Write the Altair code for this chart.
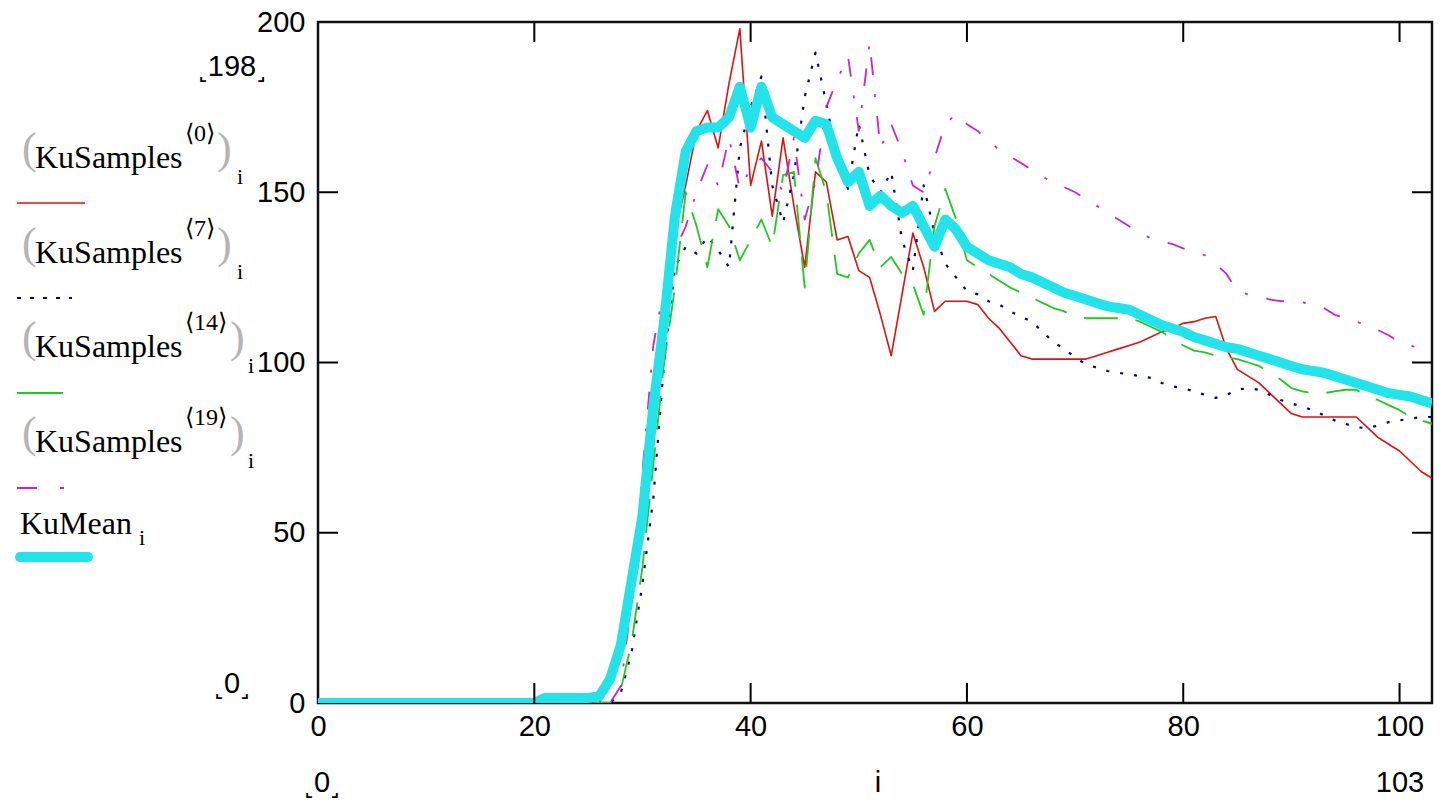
import altair as alt
import pandas as pd

# ---------------- data ----------------
idx = list(range(104))

ku_samples_0 = [
    0, 0, 0, 0, 0, 0, 0, 0, 0, 0,
    0, 0, 0, 0, 0, 0, 0, 0, 0, 0,
    0, 0, 0, 0, 0, 0, 0, 6, 22, 40,
    48, 75, 110, 138, 152, 168, 174, 163, 182, 198,
    152, 165, 143, 166, 146, 128, 156, 153, 136, 137,
    127, 125, 114, 102, 120, 138, 128, 115, 118, 118,
    118, 117, 113, 110, 106, 102, 101, 101, 101, 101,
    101, 101, 102, 103, 104, 105, 106, 107.5, 109, 110,
    111.5, 112, 113, 113.5, 104, 98, 96, 94, 91, 88,
    85, 84, 84, 84, 84, 84, 84, 81, 78, 76,
    74, 71, 68, 66]

ku_samples_7 = [
    0, 0, 0, 0, 0, 0, 0, 0, 0, 0,
    0, 0, 0, 0, 0, 0, 0, 0, 0, 0,
    0, 0, 0, 0, 0, 0, 0, 0, 3, 15,
    35, 60, 100, 128, 134, 132, 137, 133, 128, 163,
    175, 184, 152, 141, 155, 178, 191, 176, 160, 151,
    170, 155, 150, 156, 136, 127, 152, 138, 129, 125,
    121, 120, 118, 117, 115, 113.5, 112, 109, 106, 104,
    101.5, 99.5, 98.5, 97.5, 97, 96.5, 96, 95.5, 94, 93,
    92.5, 91.5, 90.5, 89.6, 90.5, 92, 92.5, 92, 90.5, 89,
    88, 87, 86, 84.5, 83, 82, 81, 80.7, 81.5, 82.5,
    83, 83.5, 84, 84]

ku_samples_14 = [
    0, 0, 0, 0, 0, 0, 0, 0, 0, 0,
    0, 0, 0, 0, 0, 0, 0, 0, 0, 0,
    0, 0, 0, 0, 0, 0, 0, 0, 4, 18,
    40, 70, 100, 122, 150, 140, 128, 145, 140, 130,
    136, 142, 134, 155, 156, 122, 160, 150, 126, 125,
    132, 136, 128, 131, 126, 123, 114, 140, 151, 142,
    130, 128, 126, 124, 122, 120.5, 119, 117.5, 116, 115,
    113.5, 113, 113, 113, 113, 113, 112, 110.5, 109, 107,
    105, 103.5, 103, 102, 101.5, 101, 100, 99, 97, 95,
    92.5, 91.5, 91, 91, 91.5, 92, 92, 90, 89, 87.5,
    86, 84, 83, 82]

ku_samples_19 = [
    0, 0, 0, 0, 0, 0, 0, 0, 0, 0,
    0, 0, 0, 0, 0, 0, 0, 0, 0, 0,
    0, 0, 0, 0, 0, 0, 0, 0, 5, 30,
    68, 105, 122, 133, 140, 150, 158, 152, 166, 151,
    157, 160, 156, 150, 166, 142, 153, 175, 183, 190,
    168, 194, 163, 170, 162, 152, 150, 160, 170, 173,
    170, 168, 165, 162.5, 160.5, 158.6, 156.5, 154.5, 153, 151.5,
    150, 148, 146, 144, 142, 140, 138, 136.5, 135.5, 134.8,
    133.5, 132.5, 131.5, 129, 126, 121, 120, 119.5, 118.5, 118,
    118, 117.8, 116.5, 116, 114, 113, 112, 111, 109.5, 108,
    106, 105, 104, 103]

ku_mean = [
    0, 0, 0, 0, 0, 0, 0, 0, 0, 0,
    0, 0, 0, 0, 0, 0, 0, 0, 0, 0,
    0, 1.5, 1.5, 1.5, 1.5, 1.5, 2, 7, 17, 36,
    55, 87, 112, 143, 162, 168, 169, 169, 172, 181,
    169, 181, 172, 170, 168, 166, 171, 170, 160, 153,
    156, 146, 149, 146, 144, 146, 140, 134, 142, 139,
    134, 132, 130, 129, 128, 126, 125, 123.5, 122, 120.5,
    119.5, 118.5, 117.5, 116.5, 116, 115.5, 114, 112.5, 111, 110,
    109, 107.5, 106.5, 105.5, 104.5, 104, 103, 102, 101, 100,
    99, 98, 97.5, 97, 96, 95, 94, 93, 92, 91,
    90.5, 90, 89, 88]

x_tick_values = [20, 40, 60, 80, 100]
y_tick_values = [50, 100, 150]
x_label_values = [0, 20, 40, 60, 80, 100]
y_label_values = [0, 50, 100, 150, 200]
legend_columns = ["⟨0⟩", "⟨7⟩", "⟨14⟩", "⟨19⟩"]
legend_name = "KuSamples"
mean_name = "KuMean"
lower_x_limit = "˻0˼"
upper_x_limit = "103"
x_var = "i"
upper_y_limit = "˻198˼"
lower_y_limit = "˻0˼"

for s in (ku_samples_0, ku_samples_7, ku_samples_14, ku_samples_19, ku_mean):
    assert len(s) == 104

# ---------------- layout ----------------
W, H = 1114, 681          # plot area
OX, OY = 318, 22          # plot origin in page pixels
TOTAL_W, TOTAL_H = 1427, 796
SERIF = "Liberation Serif, Times New Roman, serif"
NUM = "Liberation Sans Narrow, Arial Narrow, Liberation Sans, sans-serif"
NUM_SIZE = 29

RED, BLUE, GREEN, MAGENTA, CYAN = "#dd1111", "#00008f", "#22c822", "#cc22cc", "#22e3ea"

xs = alt.Scale(domain=[0, 103], nice=False, zero=False)
ys = alt.Scale(domain=[0, 200], nice=False, zero=False)

x_axis = alt.Axis(values=x_label_values, ticks=False, domain=False, grid=False,
                  labelFont=NUM, labelFontSize=NUM_SIZE, labelColor="black",
                  labelPadding=9, labelFlush=False, labelOverlap=False, title=None)
y_axis = alt.Axis(values=y_label_values, ticks=False, domain=False, grid=False,
                  labelFont=NUM, labelFontSize=NUM_SIZE, labelColor="black",
                  labelPadding=13, labelFlush=False, labelOverlap=False, title=None)


def trace(vals, color, width, dash=None):
    df = pd.DataFrame({"i": idx, "v": vals})
    kw = dict(color=color, strokeWidth=width, clip=True, strokeJoin="round")
    if dash is not None:
        kw["strokeDash"] = dash
    return alt.Chart(df).mark_line(**kw).encode(
        x=alt.X("i:Q", scale=xs, axis=x_axis),
        y=alt.Y("v:Q", scale=ys, axis=y_axis),
    )


def text_at(txt, x_img, y_img, size, font, color="black", align="left"):
    return alt.Chart(alt.Data(values=[{"t": txt}])).mark_text(
        font=font, fontSize=size, color=color, align=align, baseline="alphabetic"
    ).encode(x=alt.value(x_img - OX), y=alt.value(y_img - OY), text="t:N")


def swatch(x0, x1, y, color, width, dash=None, cap="butt"):
    kw = dict(color=color, strokeWidth=width, strokeCap=cap)
    if dash is not None:
        kw["strokeDash"] = dash
    return alt.Chart(alt.Data(values=[{"k": 0}])).mark_rule(**kw).encode(
        x=alt.value(x0 - OX), x2=alt.value(x1 - OX), y=alt.value(y - OY))


layers = [
    trace(ku_samples_0, RED, 1.6),
    trace(ku_samples_7, BLUE, 2.2, dash=[3, 11]),
    trace(ku_samples_14, GREEN, 1.8, dash=[34, 18]),
    trace(ku_samples_19, MAGENTA, 1.8, dash=[18, 19, 3, 19]),
    trace(ku_mean, CYAN, 10),
]

# inward ticks on all four sides
xt = pd.DataFrame({"i": x_tick_values})
yt = pd.DataFrame({"v": y_tick_values})
layers += [
    alt.Chart(xt).mark_rule(color="black", strokeWidth=2).encode(
        x=alt.X("i:Q", scale=xs, axis=x_axis), y=alt.value(H), y2=alt.value(H - 20)),
    alt.Chart(xt).mark_rule(color="black", strokeWidth=2).encode(
        x=alt.X("i:Q", scale=xs, axis=x_axis), y=alt.value(0), y2=alt.value(20)),
    alt.Chart(yt).mark_rule(color="black", strokeWidth=2).encode(
        y=alt.Y("v:Q", scale=ys, axis=y_axis), x=alt.value(0), x2=alt.value(20)),
    alt.Chart(yt).mark_rule(color="black", strokeWidth=2).encode(
        y=alt.Y("v:Q", scale=ys, axis=y_axis), x=alt.value(W), x2=alt.value(W - 20)),
]

# legend (Mathcad-style trace names stacked at the left)
baselines = [168, 263, 357, 452]
swatch_y = [203, 298, 393, 488]
swatch_specs = [
    (17, 85, RED, 1.6, None),
    (17, 72, BLUE, 2.2, [4, 9]),
    (17, 63, GREEN, 1.8, None),
    (17, 64, MAGENTA, 1.8, [20, 23, 4, 40]),
]
PAREN = "#b4b4b4"
for k, (b, sy, col) in enumerate(zip(baselines, swatch_y, legend_columns)):
    two = len(col) > 3
    layers += [
        text_at("(", 22, b - 5, 44, SERIF, color=PAREN),
        text_at(legend_name, 35, b, 32, SERIF),
        text_at(col, 185, b - 27, 24, SERIF),
        text_at(")", 230 if two else 217, b - 5, 44, SERIF, color=PAREN),
        text_at(x_var, 248 if two else 237, b + 16, 22, SERIF),
    ]
    x0, x1, c, w, d = swatch_specs[k]
    layers.append(swatch(x0, x1, sy, c, w, d))

layers += [
    text_at(mean_name, 20, 534, 32, SERIF),
    text_at(x_var, 139, 545, 22, SERIF),
    swatch(20, 88, 557, CYAN, 10, cap="round"),
]

# Mathcad limit markers and axis variable
layers += [
    text_at(upper_y_limit, 232, 76, NUM_SIZE, NUM, align="center"),
    text_at(lower_y_limit, 232, 693, NUM_SIZE, NUM, align="center"),
    text_at(lower_x_limit, 322, 792, NUM_SIZE, NUM, align="center"),
    text_at(x_var, 878, 792, NUM_SIZE, NUM, align="center"),
    text_at(upper_x_limit, 1400, 792, NUM_SIZE, NUM, align="center"),
]

chart = alt.layer(*layers).properties(
    width=W, height=H,
    padding={"left": OX - 8, "top": OY - 8,
             "right": TOTAL_W - (OX - 8) - W, "bottom": TOTAL_H - (OY - 8) - H},
    autosize="none",
    background="white",
).configure_view(stroke="#111111", strokeWidth=2.5)

chart.save("out.html", embed_options={"renderer": "svg", "actions": False})
